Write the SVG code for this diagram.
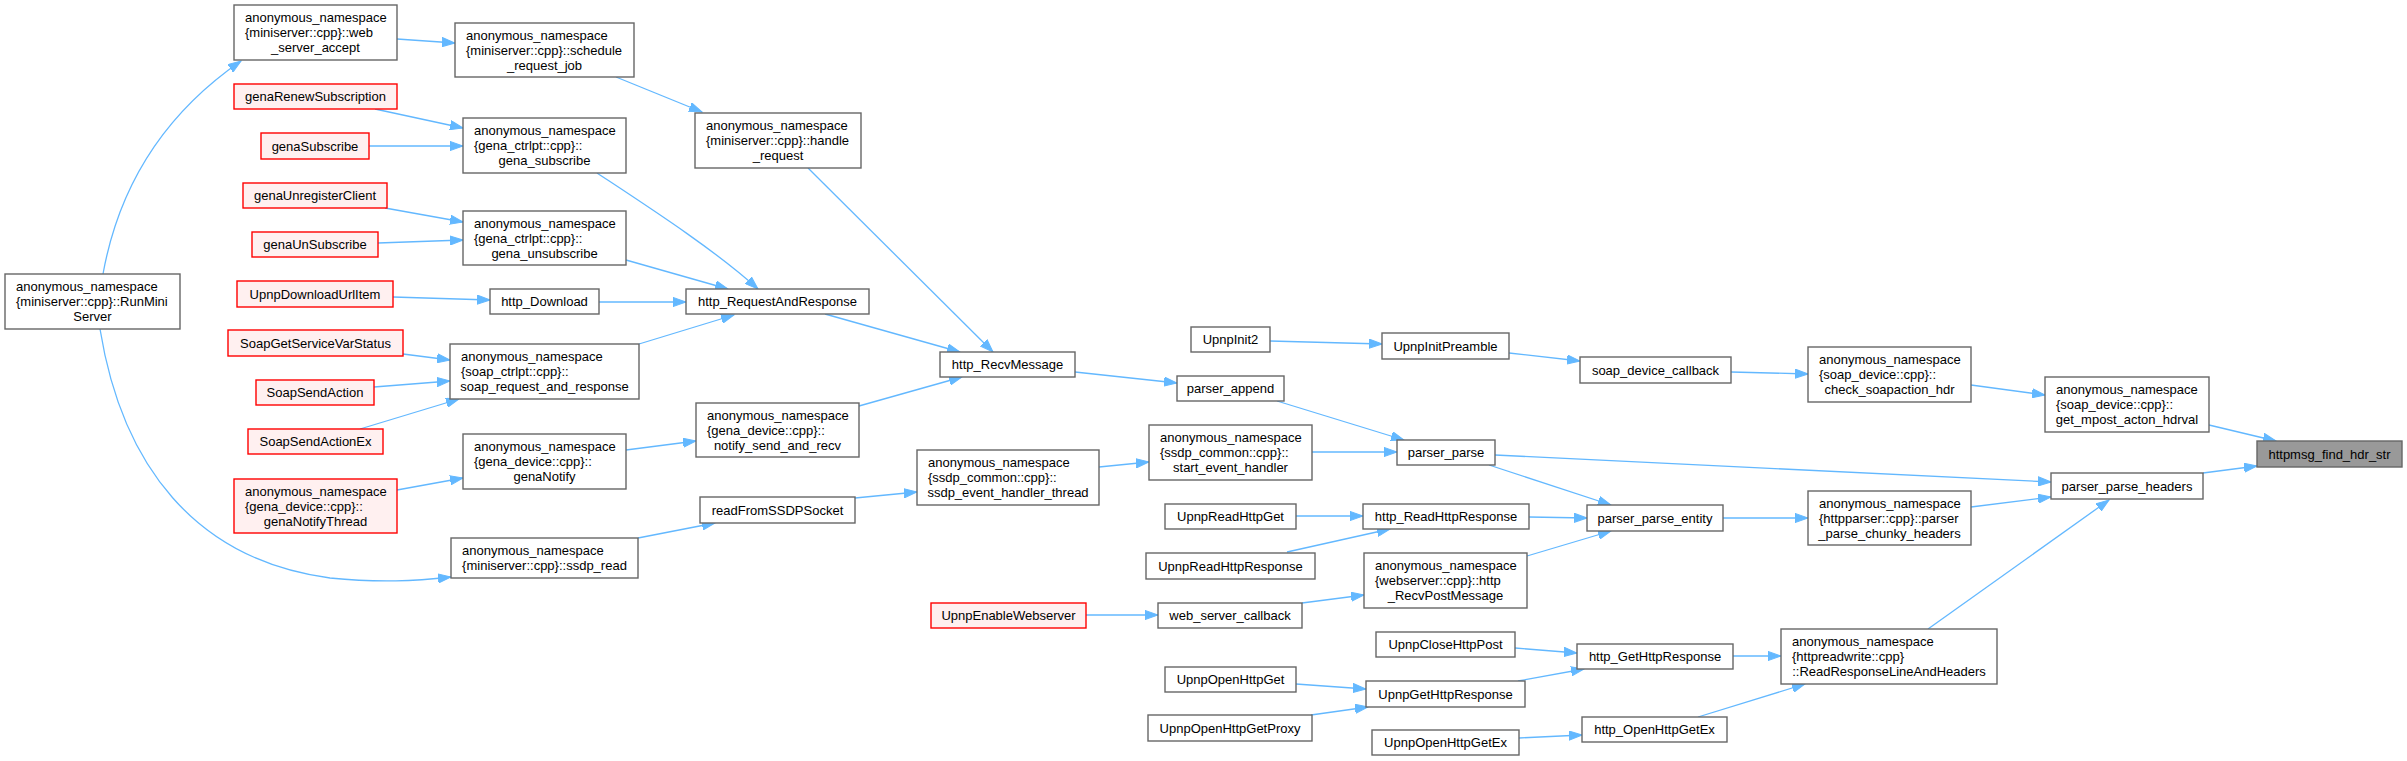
<svg xmlns="http://www.w3.org/2000/svg" width="2407" height="761" viewBox="0 0 2407 761">
<style>
text{font-family:"Liberation Sans",Arial,Helvetica,sans-serif;font-size:13px;fill:#000}
.c{text-anchor:middle}
.l{text-anchor:start}
.n rect{fill:#fff;stroke:#666;stroke-width:1.4}
.r rect{fill:#FFF0F0;stroke:#FF0000;stroke-width:1.4}
.t rect{fill:#999;stroke:#666;stroke-width:1.4}
#edges path{fill:none;stroke:#63B8FF;stroke-width:1.3;marker-end:url(#a)}
</style>
<defs>
<marker id="a" markerUnits="userSpaceOnUse" markerWidth="14" markerHeight="10" viewBox="0 0 14 10" refX="13" refY="5" orient="auto"><path d="M0,0.4 L13,5 L0,9.6 z" fill="#63B8FF" stroke="#63B8FF" stroke-width="1"/></marker>
</defs>
<rect width="2407" height="761" fill="#fff"/>
<g id="edges">
<path d="M103,274 C120,180 170,110 241,61"/>
<path d="M100,329 C122,465 195,560 330,578 C380,583 415,581 451,577"/>
<path d="M397,39 L455,43"/>
<path d="M616,77 L702,112"/>
<path d="M375,109 L463,128"/>
<path d="M369,146 L463,146"/>
<path d="M385,208 L463,222"/>
<path d="M378,243 L463,240"/>
<path d="M597,173 C650,208 715,250 758,289"/>
<path d="M626,260 L728,289"/>
<path d="M599,302 L686,302"/>
<path d="M639,344 L734,315"/>
<path d="M393,297 L490,300"/>
<path d="M403,354 L450,360"/>
<path d="M374,387 L450,381"/>
<path d="M360,429 L459,399"/>
<path d="M397,490 L463,478"/>
<path d="M626,450 L696,441"/>
<path d="M825,314 L960,352"/>
<path d="M808,168 L993,352"/>
<path d="M859,406 L962,377"/>
<path d="M1075,372 L1177,383"/>
<path d="M638,538 L715,523"/>
<path d="M855,498 L917,492"/>
<path d="M1099,467 L1149,462"/>
<path d="M1270,341 L1382,344"/>
<path d="M1509,353 L1580,361"/>
<path d="M1731,372 L1808,374"/>
<path d="M1971,385 L2045,395"/>
<path d="M2209,425 L2276,441"/>
<path d="M2203,473 L2257,466"/>
<path d="M1277,401 L1404,440"/>
<path d="M1312,452 L1397,452"/>
<path d="M1495,455 L2051,482"/>
<path d="M1489,465 L1611,505"/>
<path d="M1529,517 L1587,518"/>
<path d="M1527,556 L1611,531"/>
<path d="M1723,518 L1808,518"/>
<path d="M1971,507 L2051,497"/>
<path d="M1928,629 L2109,500"/>
<path d="M1296,516 L1363,516"/>
<path d="M1287,552 L1390,529"/>
<path d="M1302,603 L1364,595"/>
<path d="M1086,615 L1158,615"/>
<path d="M1515,648 L1577,653"/>
<path d="M1518,681 L1584,669"/>
<path d="M1296,684 L1366,689"/>
<path d="M1311,715 L1368,707"/>
<path d="M1733,656 L1781,656"/>
<path d="M1519,738 L1582,735"/>
<path d="M1698,717 L1805,684"/>
</g>
<g id="web_server_accept" class="n"><rect x="234" y="5" width="163" height="55"/><text class="l" x="245" y="22">anonymous_namespace</text><text class="l" x="245" y="37">{miniserver::cpp}::web</text><text class="c" x="315.5" y="52">_server_accept</text></g>
<g id="schedule_request_job" class="n"><rect x="455" y="23" width="179" height="54"/><text class="l" x="466" y="40">anonymous_namespace</text><text class="l" x="466" y="55">{miniserver::cpp}::schedule</text><text class="c" x="544.5" y="70">_request_job</text></g>
<g id="genaRenewSubscription" class="r"><rect x="234" y="84" width="163" height="25"/><text class="c" x="315.5" y="101">genaRenewSubscription</text></g>
<g id="genaSubscribe" class="r"><rect x="261" y="133" width="108" height="26"/><text class="c" x="315" y="150.5">genaSubscribe</text></g>
<g id="gena_subscribe" class="n"><rect x="463" y="118" width="163" height="55"/><text class="l" x="474" y="135">anonymous_namespace</text><text class="l" x="474" y="150">{gena_ctrlpt::cpp}::</text><text class="c" x="544.5" y="165">gena_subscribe</text></g>
<g id="genaUnregisterClient" class="r"><rect x="243" y="183" width="144" height="25"/><text class="c" x="315" y="200">genaUnregisterClient</text></g>
<g id="genaUnSubscribe" class="r"><rect x="252" y="232" width="126" height="25"/><text class="c" x="315" y="249">genaUnSubscribe</text></g>
<g id="gena_unsubscribe" class="n"><rect x="463" y="211" width="163" height="54"/><text class="l" x="474" y="228">anonymous_namespace</text><text class="l" x="474" y="243">{gena_ctrlpt::cpp}::</text><text class="c" x="544.5" y="258">gena_unsubscribe</text></g>
<g id="RunMiniServer" class="n"><rect x="5" y="274" width="175" height="55"/><text class="l" x="16" y="291">anonymous_namespace</text><text class="l" x="16" y="306">{miniserver::cpp}::RunMini</text><text class="c" x="92.5" y="321">Server</text></g>
<g id="UpnpDownloadUrlItem" class="r"><rect x="237" y="281" width="156" height="26"/><text class="c" x="315" y="298.5">UpnpDownloadUrlItem</text></g>
<g id="http_Download" class="n"><rect x="490" y="289" width="109" height="25"/><text class="c" x="544.5" y="306">http_Download</text></g>
<g id="SoapGetServiceVarStatus" class="r"><rect x="228" y="330" width="175" height="26"/><text class="c" x="315.5" y="347.5">SoapGetServiceVarStatus</text></g>
<g id="SoapSendAction" class="r"><rect x="256" y="380" width="118" height="25"/><text class="c" x="315" y="397">SoapSendAction</text></g>
<g id="SoapSendActionEx" class="r"><rect x="248" y="429" width="135" height="25"/><text class="c" x="315.5" y="446">SoapSendActionEx</text></g>
<g id="soap_request_and_response" class="n"><rect x="450" y="344" width="189" height="55"/><text class="l" x="461" y="361">anonymous_namespace</text><text class="l" x="461" y="376">{soap_ctrlpt::cpp}::</text><text class="c" x="544.5" y="391">soap_request_and_response</text></g>
<g id="genaNotify" class="n"><rect x="463" y="434" width="163" height="55"/><text class="l" x="474" y="451">anonymous_namespace</text><text class="l" x="474" y="466">{gena_device::cpp}::</text><text class="c" x="544.5" y="481">genaNotify</text></g>
<g id="genaNotifyThread" class="r"><rect x="234" y="479" width="163" height="54"/><text class="l" x="245" y="496">anonymous_namespace</text><text class="l" x="245" y="511">{gena_device::cpp}::</text><text class="c" x="315.5" y="526">genaNotifyThread</text></g>
<g id="ssdp_read" class="n"><rect x="451" y="538" width="187" height="40"/><text class="l" x="462" y="555">anonymous_namespace</text><text class="c" x="544.5" y="570">{miniserver::cpp}::ssdp_read</text></g>
<g id="handle_request" class="n"><rect x="695" y="113" width="166" height="55"/><text class="l" x="706" y="130">anonymous_namespace</text><text class="l" x="706" y="145">{miniserver::cpp}::handle</text><text class="c" x="778" y="160">_request</text></g>
<g id="http_RequestAndResponse" class="n"><rect x="686" y="289" width="183" height="25"/><text class="c" x="777.5" y="306">http_RequestAndResponse</text></g>
<g id="http_RecvMessage" class="n"><rect x="940" y="352" width="135" height="25"/><text class="c" x="1007.5" y="369">http_RecvMessage</text></g>
<g id="notify_send_and_recv" class="n"><rect x="696" y="403" width="163" height="54"/><text class="l" x="707" y="420">anonymous_namespace</text><text class="l" x="707" y="435">{gena_device::cpp}::</text><text class="c" x="777.5" y="450">notify_send_and_recv</text></g>
<g id="ssdp_event_handler_thread" class="n"><rect x="917" y="450" width="182" height="55"/><text class="l" x="928" y="467">anonymous_namespace</text><text class="l" x="928" y="482">{ssdp_common::cpp}::</text><text class="c" x="1008" y="497">ssdp_event_handler_thread</text></g>
<g id="readFromSSDPSocket" class="n"><rect x="700" y="497" width="155" height="26"/><text class="c" x="777.5" y="514.5">readFromSSDPSocket</text></g>
<g id="UpnpInit2" class="n"><rect x="1191" y="327" width="79" height="25"/><text class="c" x="1230.5" y="344">UpnpInit2</text></g>
<g id="parser_append" class="n"><rect x="1177" y="376" width="107" height="25"/><text class="c" x="1230.5" y="393">parser_append</text></g>
<g id="start_event_handler" class="n"><rect x="1149" y="425" width="163" height="55"/><text class="l" x="1160" y="442">anonymous_namespace</text><text class="l" x="1160" y="457">{ssdp_common::cpp}::</text><text class="c" x="1230.5" y="472">start_event_handler</text></g>
<g id="UpnpEnableWebserver" class="r"><rect x="931" y="603" width="155" height="25"/><text class="c" x="1008.5" y="620">UpnpEnableWebserver</text></g>
<g id="web_server_callback" class="n"><rect x="1158" y="603" width="144" height="25"/><text class="c" x="1230" y="620">web_server_callback</text></g>
<g id="UpnpReadHttpGet" class="n"><rect x="1165" y="504" width="131" height="25"/><text class="c" x="1230.5" y="521">UpnpReadHttpGet</text></g>
<g id="UpnpReadHttpResponse" class="n"><rect x="1146" y="553" width="169" height="26"/><text class="c" x="1230.5" y="570.5">UpnpReadHttpResponse</text></g>
<g id="UpnpOpenHttpGet" class="n"><rect x="1165" y="667" width="131" height="25"/><text class="c" x="1230.5" y="684">UpnpOpenHttpGet</text></g>
<g id="UpnpOpenHttpGetProxy" class="n"><rect x="1148" y="715" width="164" height="26"/><text class="c" x="1230" y="732.5">UpnpOpenHttpGetProxy</text></g>
<g id="UpnpInitPreamble" class="n"><rect x="1382" y="333" width="127" height="26"/><text class="c" x="1445.5" y="350.5">UpnpInitPreamble</text></g>
<g id="soap_device_callback" class="n"><rect x="1580" y="357" width="151" height="26"/><text class="c" x="1655.5" y="374.5">soap_device_callback</text></g>
<g id="check_soapaction_hdr" class="n"><rect x="1808" y="347" width="163" height="55"/><text class="l" x="1819" y="364">anonymous_namespace</text><text class="l" x="1819" y="379">{soap_device::cpp}::</text><text class="c" x="1889.5" y="394">check_soapaction_hdr</text></g>
<g id="parser_parse" class="n"><rect x="1397" y="440" width="98" height="25"/><text class="c" x="1446" y="457">parser_parse</text></g>
<g id="http_ReadHttpResponse" class="n"><rect x="1363" y="504" width="166" height="25"/><text class="c" x="1446" y="521">http_ReadHttpResponse</text></g>
<g id="parser_parse_entity" class="n"><rect x="1587" y="505" width="136" height="26"/><text class="c" x="1655" y="522.5">parser_parse_entity</text></g>
<g id="http_RecvPostMessage" class="n"><rect x="1364" y="553" width="163" height="55"/><text class="l" x="1375" y="570">anonymous_namespace</text><text class="l" x="1375" y="585">{webserver::cpp}::http</text><text class="c" x="1445.5" y="600">_RecvPostMessage</text></g>
<g id="UpnpCloseHttpPost" class="n"><rect x="1376" y="632" width="139" height="25"/><text class="c" x="1445.5" y="649">UpnpCloseHttpPost</text></g>
<g id="http_GetHttpResponse" class="n"><rect x="1577" y="644" width="156" height="25"/><text class="c" x="1655" y="661">http_GetHttpResponse</text></g>
<g id="UpnpGetHttpResponse" class="n"><rect x="1366" y="681" width="159" height="26"/><text class="c" x="1445.5" y="698.5">UpnpGetHttpResponse</text></g>
<g id="http_OpenHttpGetEx" class="n"><rect x="1582" y="717" width="145" height="25"/><text class="c" x="1654.5" y="734">http_OpenHttpGetEx</text></g>
<g id="UpnpOpenHttpGetEx" class="n"><rect x="1372" y="730" width="147" height="25"/><text class="c" x="1445.5" y="747">UpnpOpenHttpGetEx</text></g>
<g id="ReadResponseLineAndHeaders" class="n"><rect x="1781" y="629" width="216" height="55"/><text class="l" x="1792" y="646">anonymous_namespace</text><text class="l" x="1792" y="661">{httpreadwrite::cpp}</text><text class="c" x="1889" y="676">::ReadResponseLineAndHeaders</text></g>
<g id="get_mpost_acton_hdrval" class="n"><rect x="2045" y="377" width="164" height="55"/><text class="l" x="2056" y="394">anonymous_namespace</text><text class="l" x="2056" y="409">{soap_device::cpp}::</text><text class="c" x="2127" y="424">get_mpost_acton_hdrval</text></g>
<g id="httpmsg_find_hdr_str" class="t"><rect x="2257" y="441" width="145" height="26"/><text class="c" x="2329.5" y="458.5">httpmsg_find_hdr_str</text></g>
<g id="parser_parse_headers" class="n"><rect x="2051" y="473" width="152" height="26"/><text class="c" x="2127" y="490.5">parser_parse_headers</text></g>
<g id="parser_parse_chunky_headers" class="n"><rect x="1808" y="491" width="163" height="54"/><text class="l" x="1819" y="508">anonymous_namespace</text><text class="l" x="1819" y="523">{httpparser::cpp}::parser</text><text class="c" x="1889.5" y="538">_parse_chunky_headers</text></g>
</svg>
